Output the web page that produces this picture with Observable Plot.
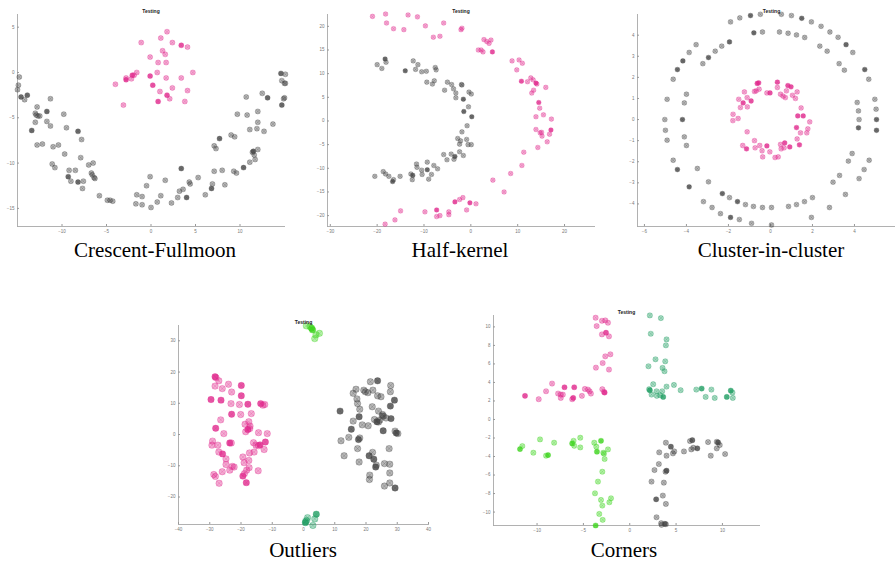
<!DOCTYPE html>
<html><head><meta charset="utf-8">
<script src="https://cdn.jsdelivr.net/npm/d3@7"></script>
<script src="https://cdn.jsdelivr.net/npm/@observablehq/plot@0.6"></script>
<style>
body{margin:0;background:#fff}
#fig{position:relative;width:895px;height:563px;overflow:hidden;background:#fff}
.cap{position:absolute;font-family:"Liberation Serif","Times New Roman",serif;font-size:21px;color:#000;transform:translateX(-50%);white-space:nowrap;line-height:1}
</style></head><body><div id="fig"></div><script>
// ---------- data: [x, y, multiplicity] ----------
const crescentGray = [[-15.0,-1.9],[-14.9,-1.4],[-14.8,-0.5],[-14.6,-2.7,2],[-14.2,-3.0],[-13.9,-2.5,2],[-13.4,-6.4,2],[-13.0,-4.5],[-12.9,-4.7],[-12.7,-4.8],[-12.5,-4.8],[-13.0,-5.5],[-12.8,-3.8],[-12.8,-8.0],[-12.2,-7.9],[-11.7,-4.3,2],[-11.7,-5.4],[-11.3,-2.9],[-11.3,-5.9],[-11.0,-8.2],[-11.1,-10.1],[-10.8,-10.5],[-10.4,-8.0],[-9.8,-4.6],[-9.7,-9.0],[-9.5,-6.1],[-9.2,-10.8],[-9.3,-11.5,2],[-9.0,-12.0],[-8.5,-10.8],[-8.2,-6.5,2],[-8.2,-12.1,2],[-7.9,-9.4],[-7.8,-7.4],[-7.7,-12.8],[-7.6,-12.0],[-7.0,-10.2],[-6.7,-11.1],[-6.6,-11.3],[-6.5,-10.0],[-6.4,-11.6],[-6.3,-11.7],[-5.8,-13.6],[-4.9,-14.1],[-4.6,-14.1],[-4.3,-14.2],[-1.7,-14.5],[-1.6,-13.5],[-1.0,-13.7],[-1.0,-14.6],[-0.5,-12.5],[-0.1,-11.5],[0.0,-14.9],[0.7,-14.3],[1.1,-13.6],[1.6,-11.9],[2.3,-14.4],[3.0,-13.8],[3.2,-13.1],[3.6,-12.9],[3.4,-10.6,2],[4.0,-13.8,2],[4.3,-12.1],[4.4,-12.3],[5.3,-11.6],[6.1,-13.5],[6.8,-12.8,2],[6.9,-12.3],[7.1,-10.9],[7.1,-8.1],[7.3,-8.4],[7.7,-7.3,2],[8.0,-10.8],[8.3,-12.4],[9.0,-6.9],[9.3,-10.9],[9.4,-7.1],[9.6,-11.1],[9.7,-4.6],[10.4,-10.5,2],[10.7,-2.7],[10.8,-4.7],[11.1,-6.3],[11.1,-9.9],[11.4,-8.8],[11.5,-8.7,2],[11.6,-9.1],[11.7,-9.6],[11.9,-6.2],[12.0,-4.3],[12.0,-5.5],[12.0,-8.5],[12.5,-2.3],[12.7,-6.5],[13.1,-2.8,2],[13.7,-5.7],[14.6,-0.1,2],[14.7,-0.9],[14.7,-3.6,2],[14.9,-2.9],[15.0,-2.8],[15.0,-1.2],[15.1,-0.2],[15.1,-1.2]];
const crescentPink = [[-4.0,-1.3],[-3.1,-3.6],[-2.8,-0.8,2],[-2.8,-0.6],[-2.2,-0.7],[-2.1,-0.3,2],[-1.9,-0.3],[-1.6,0.0],[-1.1,3.3],[-0.1,1.7],[-0.1,-0.4,2],[0.2,-1.4,2],[0.7,0.0],[0.8,1.1],[0.8,-3.2,2],[1.0,-2.1],[1.1,3.8],[1.3,2.4],[1.6,2.0],[1.7,1.1],[1.7,-0.6],[1.8,4.5],[1.8,-2.5,2],[2.1,-2.9],[2.4,3.3],[2.4,-1.7],[3.4,3.0,2],[3.4,-0.6],[3.8,-3.2],[4.1,2.8],[4.1,-2.0],[4.7,0.0]];

const kernelPink = [[-21.0,22.1],[-18.2,22.6],[-18.0,20.7],[-16.5,19.5],[-14.3,19.3],[-13.4,22.4],[-11.4,22.0],[-9.7,20.1],[-8.0,17.7],[-6.6,17.9],[-5.8,20.7],[-2.1,19.3],[-1.9,19.6],[1.6,15.0],[2.2,15.0],[2.6,14.6],[2.8,17.2],[3.4,16.8],[3.9,16.4],[4.3,17.1],[4.6,14.6,2],[8.8,12.7],[9.8,10.8],[10.3,12.9],[11.0,12.2],[10.8,8.4,2],[12.1,8.3],[12.8,9.1],[13.3,8.7],[13.4,6.5],[13.0,5.9],[13.9,8.0,2],[14.1,7.8],[16.0,7.1],[14.5,3.9,2],[14.7,2.7],[15.5,1.3],[13.9,0.9],[17.2,0.4],[17.1,-1.9,2],[13.9,-1.8],[14.8,-2.5],[15.1,-2.4],[15.2,-3.2],[16.8,-2.8],[16.3,-4.4],[14.3,-5.6],[11.3,-6.6],[10.9,-9.4],[8.5,-11.1],[4.7,-12.5],[7.1,-15.0],[1.1,-17.5],[-0.2,-17.3,2],[-0.9,-18.8],[-1.7,-16.2],[-2.4,-16.6],[-3.4,-17.1,2],[-4.7,-19.2],[-4.7,-19.8],[-6.6,-20.0],[-7.3,-20.2],[-7.3,-18.8,2],[-9.8,-19.2],[-15.0,-19.0],[-16.2,-20.9],[-18.3,-21.8]];
const kernelGray = [[-20.0,11.9],[-19.0,11.1],[-18.3,13.1,2],[-18.1,12.4],[-14.0,10.6,2],[-12.3,12.7],[-11.8,10.9],[-11.3,11.9],[-10.5,10.4],[-9.5,10.5],[-9.4,8.2],[-8.2,7.8],[-7.8,8.5],[-7.6,11.3],[-7.4,10.8],[-5.6,6.5],[-5.0,8.2],[-4.1,7.7],[-3.7,6.8],[-3.2,5.9],[-1.9,7.6],[-1.6,4.6,2],[-3.2,4.9],[-2.0,7.7],[-0.4,6.1],[0.1,5.7],[-1.5,2.0,2],[-0.5,3.0],[0.2,0.9,2],[-0.8,-1.0],[-1.9,-2.3],[-2.8,-3.7],[-2.4,-4.9],[-2.2,-4.2],[-0.9,-3.9],[-0.6,-5.0],[0.1,-5.0],[-2.4,-6.5],[-1.6,-7.3],[-3.4,-7.5,2],[-4.2,-7.0],[-5.1,-8.2],[-5.8,-7.1],[-3.6,-8.1],[-9.3,-8.7],[-7.9,-9.4],[-7.1,-10.1],[-8.4,-11.3],[-9.0,-12.3],[-10.4,-11.3],[-11.6,-9.1],[-11.5,-9.8],[-10.5,-10.4],[-9.3,-10.3,2],[-12.8,-11.2],[-12.5,-12.4],[-12.4,-11.5,2],[-15.1,-11.7],[-16.7,-12.8,2],[-16.5,-12.4],[-17.5,-11.7],[-18.2,-11.2],[-18.7,-10.7],[-20.5,-11.7]];

const ringOuter = [[-5.03,0.0],[-5.0,-0.51],[-4.92,0.96],[-4.92,-0.98],[-4.63,1.91],[-4.63,-1.93],[-4.43,2.37,2],[-4.43,-2.37,2],[-4.17,2.78,2],[-3.87,3.18],[-3.87,-3.19,2],[-3.54,3.55],[-3.19,-3.89],[-2.78,-4.17],[-2.38,-4.46],[-1.9,4.63],[-1.9,-4.64,2],[-1.46,4.82],[-1.48,-4.74],[-0.95,4.93,2],[-0.9,-4.92],[-0.48,4.99],[0.05,-5.0],[0.52,4.99],[1.0,4.93],[1.49,4.8,2],[1.95,4.63],[1.95,-4.64],[2.41,4.42],[2.83,4.15],[2.81,-4.17],[3.22,3.9],[3.6,3.55,2],[3.57,-3.55],[3.92,3.18],[4.22,-2.8],[4.49,2.37,2],[4.46,-2.37],[4.68,1.91],[4.7,-1.93],[4.97,0.96],[5.03,0.49],[5.05,0.0,2],[5.05,-0.51,2]];
const ringInner = [[-4.19,0.0,2],[-4.1,0.79],[-4.1,-0.82],[-4.0,1.2],[-4.0,-1.23],[-3.48,-2.32],[-3.22,2.65],[-2.95,2.94,2],[-2.95,-2.95],[-2.63,3.24],[-2.32,3.48],[-2.29,-3.51,2],[-1.95,3.68,2],[-1.95,-3.7],[-1.57,-3.89,2],[-1.19,-4.03],[-0.79,4.11,2],[-0.81,-4.12],[-0.38,4.15],[-0.38,-4.17],[0.05,-4.17],[0.43,4.15],[0.84,4.09],[0.86,-4.12],[1.24,4.01],[1.24,-4.03],[1.63,3.89],[1.62,-3.89],[2.0,-3.7],[2.35,3.48],[2.7,3.24],[2.98,-2.97],[3.27,2.65],[3.29,-2.65],[3.52,2.34],[3.71,-1.97],[3.89,-1.61],[4.13,0.81],[4.19,0.41],[4.22,0.0],[4.19,-0.39,2]];
const ringCore = [[-1.78,0.25],[-1.79,-0.05],[-1.54,0.05],[-1.51,0.96],[-1.43,0.57],[-1.3,0.79,2],[-1.24,1.31],[-1.11,1.04],[-1.1,0.6],[-0.92,0.88,2],[-1.11,-0.58],[-0.76,1.33],[-0.63,1.71,2],[-0.56,1.74,2],[-0.54,1.44],[-0.68,1.36],[-0.17,1.26],[-0.02,1.26,2],[0.33,1.77,2],[0.33,1.52],[0.48,1.2],[0.6,1.11],[0.71,1.04],[0.76,1.36],[0.83,1.61,2],[0.98,1.55,2],[1.05,1.15],[1.19,1.0],[1.27,1.31],[1.46,0.55],[1.3,0.17,2],[1.56,0.17,2],[1.87,-0.11],[1.24,-0.38,2],[1.43,-0.63],[1.78,-0.44],[1.73,-0.63],[1.27,-0.92],[1.38,-1.2,2],[0.92,-1.3,2],[0.68,-1.11,2],[0.65,-1.34],[0.51,-1.39],[0.48,-1.18],[0.37,-1.77],[0.22,-1.8],[-0.03,-1.53],[-0.17,-1.25,2],[-0.37,-1.77],[-0.4,-1.48],[-0.51,-1.23],[-0.73,-1.34],[-0.76,-1.0],[-1.14,-1.39,2],[-1.32,-1.23]];

const outlierPink = [[-28.3,18.5,2],[-28.0,18.2],[-27.1,17.2],[-28.3,15.5],[-26.0,14.7],[-24.0,16.1],[-23.0,13.6],[-19.9,15.7,2],[-29.6,11.2,2],[-26.4,11.0,2],[-23.2,9.9],[-20.5,9.6],[-19.9,12.4,2],[-17.8,9.7,2],[-13.7,9.9,2],[-13.0,9.4],[-12.4,9.6],[-16.7,6.7],[-23.0,6.5,2],[-26.5,4.7],[-20.1,6.4],[-28.1,2.0,2],[-25.5,0.3],[-18.7,3.3],[-17.5,4.1],[-17.1,2.7],[-17.8,1.6,2],[-18.5,0.9],[-17.2,1.9],[-14.4,0.6],[-11.6,0.3],[-29.1,-2.1],[-29.3,-3.4],[-27.4,-3.4],[-23.6,-2.7,2],[-23.1,-2.7],[-16.0,-2.6],[-15.2,-3.4],[-14.4,-3.6],[-13.9,-3.3,2],[-12.2,-2.4,2],[-12.6,-4.8],[-27.1,-5.6],[-25.9,-6.2,2],[-24.8,-7.8],[-24.8,-9.6],[-23.6,-11.4],[-22.8,-10.2],[-22.2,-10.4],[-19.4,-7.2],[-19.0,-9.0],[-17.3,-5.9],[-17.5,-8.3],[-17.4,-10.6],[-18.9,-12.5],[-18.2,-11.4],[-19.4,-13.3,2],[-26.0,-11.9],[-28.7,-12.8],[-28.2,-13.4],[-27.0,-15.6],[-18.3,-15.4,2],[-14.5,-11.6],[-15.8,-5.6]];
const outlierGray = [[11.7,7.5,2],[12.0,-2.0],[13.0,-6.8],[14.5,-0.9],[15.3,1.7,2],[15.9,4.3],[15.9,13.2],[16.8,14.5],[17.1,11.4],[17.3,9.9],[18.0,8.1],[17.8,5.7,2],[17.6,-1.6,2],[18.0,-1.1],[17.3,-4.5],[17.8,-8.8],[18.8,3.1],[19.3,14.2],[19.8,13.7],[20.6,13.4],[20.7,2.8],[21.0,-6.8,2],[21.2,-13.0],[21.1,-14.4],[21.4,16.9],[22.0,8.9],[22.1,-5.7],[22.2,14.2],[22.5,-7.9,2],[22.7,4.8],[23.1,-10.4,2],[23.3,-9.8],[23.5,4.1,2],[23.7,17.2,2],[23.7,12.4],[24.0,7.5],[24.0,4.0],[24.4,4.6],[24.8,12.1],[25.2,5.9],[25.3,6.4],[25.6,5.9],[25.9,-9.3],[25.5,1.2,2],[25.9,-16.5],[26.4,5.3],[27.4,-4.5],[27.6,-9.5],[27.6,-15.5],[27.8,9.1,2],[27.8,13.7],[27.9,15.7],[27.6,-12.3],[28.0,5.1,2],[29.1,11.0,2],[29.3,1.1],[29.7,0.5,2],[30.2,0.3],[29.3,-17.1,2]];
const outlierTop = [[0.9,34.8],[2.1,34.5],[2.6,34.0,2],[2.9,33.5,2],[4.0,31.9],[5.1,32.4],[3.6,30.7]];
const outlierBottom = [[1.3,-26.6],[1.0,-27.5],[0.6,-28.2,2],[0.7,-27.8],[3.0,-29.1],[3.6,-27.0],[4.1,-25.5,2]];

const cornerPink = [[-3.68,10.99],[-3.0,10.66],[-2.64,10.7],[-2.35,10.45],[-3.57,10.09],[-3.0,9.19],[-2.56,9.37,2],[-2.24,8.98],[-2.64,6.82],[-2.09,7.04],[-2.92,6.1],[-3.65,5.6],[-2.24,5.39],[-11.3,2.55,2],[-9.82,2.19],[-9.03,3.05],[-8.38,3.88],[-7.73,2.8],[-7.44,2.69],[-7.22,2.69],[-7.44,2.33],[-7.04,3.48,2],[-6.21,2.19],[-5.99,3.48,2],[-6.1,2.33,2],[-5.16,2.55],[-4.84,3.3],[-4.51,3.23],[-4.33,3.05],[-4.19,2.8],[-2.96,3.27],[-2.71,2.91,2],[-2.78,2.98]];
const cornerTeal = [[2.17,11.24],[3.36,10.95],[2.27,9.26],[3.97,8.65],[3.9,8.01],[2.78,6.5],[3.83,6.28],[3.54,5.57],[3.75,5.21],[2.02,5.75],[2.53,3.81],[2.09,3.27],[2.17,3.16,2],[2.35,2.69],[2.89,3.05],[2.92,2.55],[3.5,3.05],[3.61,2.44,2],[3.29,2.62],[3.97,3.55],[4.77,3.73],[5.49,3.16],[7.18,3.23],[7.76,3.34,2],[8.19,2.44],[8.81,3.23],[9.17,2.33],[10.47,2.44,2],[10.9,3.12,2],[11.08,2.91],[11.12,2.33]];
const cornerGreen = [[-11.84,-3.2,2],[-11.59,-2.87],[-10.4,-3.59],[-9.68,-2.15],[-9.03,-3.91],[-8.81,-3.84,2],[-8.16,-2.51],[-6.21,-2.59,2],[-6.06,-2.3],[-5.99,-2.84],[-5.34,-1.97],[-5.34,-3.02],[-3.83,-2.51],[-3.61,-2.94],[-3.54,-3.48,2],[-3.1,-2.3,2],[-2.85,-3.59],[-2.78,-3.7],[-2.35,-3.23],[-2.71,-4.27],[-2.96,-5.64],[-3.43,-6.71],[-3.75,-7.97],[-3.1,-8.69],[-2.02,-8.51],[-2.96,-9.3],[-2.2,-8.94],[-3.29,-10.2],[-2.92,-10.84],[-3.68,-11.45,2]];
const cornerGray = [[3.9,-2.51],[4.44,-2.94,2],[3.18,-3.55],[3.97,-3.91],[4.66,-3.66],[4.8,-3.45],[5.85,-3.45],[6.5,-2.33],[6.75,-2.23,2],[6.64,-3.23],[6.86,-3.05],[7.29,-3.12,2],[8.45,-2.44],[9.39,-2.41],[9.53,-2.48,2],[9.71,-2.76],[9.39,-3.12],[8.74,-3.91],[10.29,-3.73],[3.14,-4.81],[2.67,-5.46],[3.86,-5.64],[3.97,-5.53,2],[2.35,-6.71],[3.68,-6.82],[2.85,-8.62,2],[3.57,-8.22],[3.9,-9.12],[2.89,-10.56],[3.39,-11.2],[3.43,-11.38],[3.79,-11.27,2],[3.9,-11.31]];

// tick values
const ticks1x = [-10,-5,0,5,10], ticks1y = [-15,-10,-5,0,5];
const ticks2x = [-30,-20,-10,0,10,20], ticks2y = [-20,-15,-10,-5,0,5,10,15,20];
const ticks3x = [-6,-4,-2,0,2,4], ticks3y = [-4,-3,-2,-1,0,1,2,3,4];
const ticks4x = [-40,-30,-20,-10,0,10,20,30,40], ticks4y = [-20,-10,0,10,20,30];
const ticks5x = [-10,-5,0,5,10], ticks5y = [-10,-8,-6,-4,-2,0,2,4,6,8,10];

const titles = ["Crescent-Fullmoon","Half-kernel","Cluster-in-cluster","Outliers","Corners"];
const subtitle = "Testing";

// ---------- colours ----------
const GRAY = "#444444", PINK = "#e0288c", LIME = "#3cd41c", TEAL = "#1f9e62";

const fig = document.getElementById("fig");

function pointMarks(data, color, r) {
  const X = d => d[0], Y = d => d[1];
  return [
    Plot.dot(data, {x: X, y: Y, r, fill: color, fillOpacity: d => d[2] === 2 ? 0.78 : 0.38,
      stroke: color, strokeOpacity: 0.6, strokeWidth: 0.55}),
    Plot.dot(data, {x: X, y: Y, r: r * 0.8, symbol: "times", stroke: color, strokeOpacity: 0.45, strokeWidth: 0.5})
  ];
}

function panel({series, xDomain, yDomain, xTicks, yTicks, frame, r}) {
  const [x0, y0, x1, y1] = frame;
  const ml = 22, mr = 4, mt = 14, mb = 14;
  const chart = Plot.plot({
    width: x1 - x0 + ml + mr, height: y1 - y0 + mt + mb,
    marginLeft: ml, marginRight: mr, marginTop: mt, marginBottom: mb,
    x: {domain: xDomain, label: null},
    y: {domain: yDomain, label: null},
    opacity: {type: "identity"},
    style: {background: "transparent", fontSize: "4.5px", fontFamily: "'Liberation Sans', Arial, sans-serif", color: "#666", overflow: "visible"},
    marks: [
      Plot.frame({anchor: "left", stroke: "#a8a8a8", strokeWidth: 0.9}),
      Plot.frame({anchor: "bottom", stroke: "#a8a8a8", strokeWidth: 0.9}),
      Plot.axisX(xTicks, {tickSize: -2, tickPadding: 5, stroke: "#999", fill: "#777", fontSize: 4.5, label: null}),
      Plot.axisY(yTicks, {tickSize: -2, tickPadding: 5, stroke: "#999", fill: "#777", fontSize: 4.5, label: null}),
      ...series.flatMap(s => pointMarks(s.data, s.color, r)),
      Plot.text([subtitle], {frameAnchor: "top", dy: -2, lineAnchor: "bottom", fontWeight: "bold", fill: "#222", fontSize: 5})
    ]
  });
  chart.style.position = "absolute";
  chart.style.left = (x0 - ml) + "px";
  chart.style.top = (y0 - mt) + "px";
  fig.append(chart);
}

panel({series: [{data: crescentGray, color: GRAY}, {data: crescentPink, color: PINK}],
  xDomain: [-15, 15], yDomain: [-17, 6.4], xTicks: ticks1x, yTicks: ticks1y, frame: [17, 14, 284, 226], r: 2.5});
panel({series: [{data: kernelGray, color: GRAY}, {data: kernelPink, color: PINK}],
  xDomain: [-30.6, 26.4], yDomain: [-22.3, 22.5], xTicks: ticks2x, yTicks: ticks2y, frame: [327, 14, 594, 226], r: 2.3});
panel({series: [{data: ringOuter, color: GRAY}, {data: ringInner, color: GRAY}, {data: ringCore, color: PINK}],
  xDomain: [-6.33, 6.43], yDomain: [-5.07, 4.98], xTicks: ticks3x, yTicks: ticks3y, frame: [637, 14, 905, 226], r: 2.4});
panel({series: [{data: outlierGray, color: GRAY}, {data: outlierPink, color: PINK}, {data: outlierTop, color: LIME}, {data: outlierBottom, color: TEAL}],
  xDomain: [-40, 40], yDomain: [-28.8, 34.9], xTicks: ticks4x, yTicks: ticks4y, frame: [178, 325, 428, 524], r: 3.2});
panel({series: [{data: cornerPink, color: PINK}, {data: cornerTeal, color: TEAL}, {data: cornerGreen, color: LIME}, {data: cornerGray, color: GRAY}],
  xDomain: [-14.7, 14.0], yDomain: [-11.45, 11.23], xTicks: ticks5x, yTicks: ticks5y, frame: [493, 315, 759, 525], r: 2.6});

// captions
const capPos = [[155, 240], [460, 240], [771, 240], [303, 540], [624, 540]];
titles.forEach((t, i) => {
  const d = document.createElement("div");
  d.className = "cap";
  d.textContent = t;
  d.style.left = capPos[i][0] + "px";
  d.style.top = capPos[i][1] + "px";
  fig.append(d);
});
</script></body></html>
